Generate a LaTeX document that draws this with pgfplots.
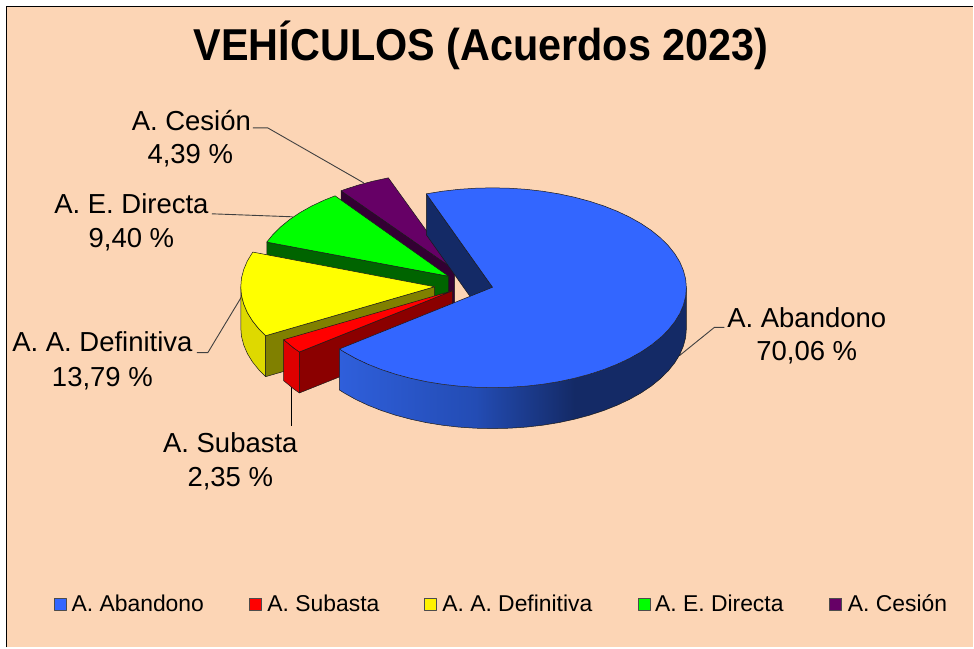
\documentclass[border=0pt]{standalone}
\usepackage{pgfplots}
\pgfplotsset{compat=1.18}
\usepackage{fontspec}
\setmainfont{Liberation Sans}
\definecolor{peach}{HTML}{FCD5B5}
\definecolor{bluetop}{HTML}{3366FF}
\definecolor{bluelite}{HTML}{2F5FDB}
\definecolor{bluemid}{HTML}{234CB4}
\definecolor{navy}{HTML}{142A66}
\definecolor{outl}{HTML}{1A1A1A}
\newcommand{\lab}[3]{\node[anchor=base,inner sep=0pt] at (axis cs:#1,#2) {\fontsize{27.5}{30}\selectfont #3};}
\newcommand{\leg}[2]{\node[anchor=base west,inner sep=0pt] at (axis cs:#1,612) {\fontsize{22.9}{25}\selectfont #2};}
\begin{document}
\begin{tikzpicture}
\begin{axis}[
  width=974pt,height=648pt,scale only axis,
  xmin=0,xmax=974,ymin=0,ymax=648,y dir=reverse,
  hide axis,clip=false,
  axis line style={draw=none},
  every axis plot/.append style={line join=round}
]
% page and plot area
\addplot[fill=white,draw=none] coordinates {(0,0)(974,0)(974,648)(0,648)} --cycle;
\addplot[fill=peach,draw=none] coordinates {(6.5,6.5)(974,6.5)(974,648)(6.5,648)} --cycle;
\addplot[black,line width=1.8pt] coordinates {(6.5,648)(6.5,6.5)(974,6.5)};

% leader lines
\addplot[black!75,line width=0.9pt] coordinates {(253,128)(268,128)(364,183)};
\addplot[black!75,line width=0.9pt] coordinates {(212,214)(293,217)};
\addplot[black!75,line width=0.9pt] coordinates {(197,353)(208,353)(243,295)};
\addplot[black,line width=0.9pt] coordinates {(292,386)(292,426)};
\addplot[black!75,line width=0.9pt] coordinates {(680,356)(715,327.7)(725,327.7)};

% A. Cesion (4,39 %)
\addplot[fill={rgb,255:red,51;green,0;blue,51},draw=outl,line width=0.5pt] coordinates {(341.4,191)(455,270)(455,311)(341.4,232)} --cycle;
\addplot[fill={rgb,255:red,102;green,0;blue,102},draw=outl,line width=0.5pt] coordinates {(455,270)(341.4,191)(343.7,190.1)(358,185.4)(373,181.4)(388.7,178)} --cycle;

% A. E. Directa (9,40 %)
\addplot[fill={rgb,255:red,0;green,100;blue,0},draw=outl,line width=0.5pt] coordinates {(267,242.3)(449,276.5)(449,317.5)(267,283.3)} --cycle;
\addplot[fill={rgb,255:red,0;green,255;blue,0},draw=outl,line width=0.5pt] coordinates {(449,276.5)(267,242.3)(273.2,234.7)(281,227)(290.1,219.6)(300.4,212.7)(311.8,206.3)(324.3,200.4)(335.4,196)} --cycle;

% A. A. Definitiva (13,79 %)
\addplot[fill={rgb,255:red,222;green,217;blue,0},draw=outl,line width=0.5pt] coordinates {(265.9,336)(259.2,329.3)(252.7,321.2)(247.6,312.9)(244,304.4)(241.7,295.7)(241,287)(241,328)(241.7,336.7)(244,345.4)(247.6,353.9)(252.7,362.2)(259.2,370.3)(265.9,377)} --cycle;
\addplot[fill={rgb,255:red,128;green,128;blue,0},draw=outl,line width=0.5pt] coordinates {(265.9,336)(435,287)(435,328)(265.9,377)} --cycle;
\addplot[fill={rgb,255:red,255;green,255;blue,0},draw=outl,line width=0.5pt] coordinates {(435,287)(265.9,336)(259.2,329.3)(252.7,321.2)(247.6,312.9)(244,304.4)(241.7,295.7)(241,287)(241.7,278.3)(244,269.6)(247.6,261.1)(253,252.3)} --cycle;

% A. Subasta (2,35 %)
\addplot[fill={rgb,255:red,222;green,0;blue,0},draw=outl,line width=0.5pt] coordinates {(283.9,340)(294.1,348.4)(299.7,352.3)(299.7,393.3)(294.1,389.4)(283.9,381)} --cycle;
\addplot[fill={rgb,255:red,139;green,0;blue,0},draw=outl,line width=0.5pt] coordinates {(299.7,352.3)(453,291)(453,332)(299.7,393.3)} --cycle;
\addplot[fill={rgb,255:red,255;green,0;blue,0},draw=outl,line width=0.5pt] coordinates {(453,291)(299.7,352.3)(294.1,348.4)(283.9,340)} --cycle;

% A. Abandono (70,06 %)
\addplot[fill=navy,draw=outl,line width=0.5pt] coordinates {(426.7,194)(493,287.5)(493,328.5)(426.7,235)} --cycle;
\addplot[draw=none,left color=bluelite,right color=bluemid] coordinates {(339.7,349.3)(344.4,352.3)(355.8,358.7)(368.3,364.6)(381.7,369.9)(396,374.6)(411,378.6)(426.7,382)(442.8,384.6)(459.3,386.5)(476.4,387.6)(476.4,428.6)(459.3,427.5)(442.8,425.6)(426.7,423)(411,419.6)(396,415.6)(381.7,410.9)(368.3,405.6)(355.8,399.7)(344.4,393.3)(339.7,390.3)} --cycle;
\addplot[draw=none,left color=bluemid,right color=navy] coordinates {(476.1,387.6)(493,388)(509.9,387.6)(526.7,386.5)(543.2,384.6)(559.3,382)(575.3,378.6)(575.3,419.6)(559.3,423)(543.2,425.6)(526.7,427.5)(509.9,428.6)(493,429)(476.1,428.6)} --cycle;
\addplot[fill=navy,draw=none] coordinates {(575,378.6)(590,374.6)(604.3,369.9)(617.7,364.6)(630.2,358.7)(641.6,352.3)(651.9,345.4)(661,338)(668.8,330.3)(675.3,322.2)(680.4,313.9)(684,305.4)(686.3,296.7)(687,288)(687,329)(686.3,337.7)(684,346.4)(680.4,354.9)(675.3,363.2)(668.8,371.3)(661,379)(651.9,386.4)(641.6,393.3)(630.2,399.7)(617.7,405.6)(604.3,410.9)(590,415.6)(575,419.6)} --cycle;
\addplot[draw=outl,line width=0.5pt] coordinates {(339.7,349.3)(339.7,390.3)(344.4,393.3)(355.8,399.7)(368.3,405.6)(381.7,410.9)(396,415.6)(411,419.6)(426.7,423)(442.8,425.6)(459.3,427.5)(476.1,428.6)(493,429)(509.9,428.6)(526.7,427.5)(543.2,425.6)(559.3,423)(575,419.6)(590,415.6)(604.3,410.9)(617.7,405.6)(630.2,399.7)(641.6,393.3)(651.9,386.4)(661,379)(668.8,371.3)(675.3,363.2)(680.4,354.9)(684,346.4)(686.3,337.7)(687,329)(687,288)};
\addplot[fill=bluetop,draw=outl,line width=0.5pt] coordinates {(426.7,194)(442.8,191.4)(459.3,189.5)(476.1,188.4)(493,188)(509.9,188.4)(526.7,189.5)(543.2,191.4)(559.3,194)(575,197.4)(590,201.4)(604.3,206.1)(617.7,211.4)(630.2,217.3)(641.6,223.7)(651.9,230.6)(661,238)(668.8,245.7)(675.3,253.8)(680.4,262.1)(684,270.6)(686.3,279.3)(687,288)(686.3,296.7)(684,305.4)(680.4,313.9)(675.3,322.2)(668.8,330.3)(661,338)(651.9,345.4)(641.6,352.3)(630.2,358.7)(617.7,364.6)(604.3,369.9)(590,374.6)(575,378.6)(559.3,382)(543.2,384.6)(526.7,386.5)(509.9,387.6)(493,388)(476.1,387.6)(459.3,386.5)(442.8,384.6)(426.7,382)(411,378.6)(396,374.6)(381.7,369.9)(368.3,364.6)(355.8,358.7)(344.4,352.3)(339.7,349.3)(493,287.5)} --cycle;

% legend keys
\addplot[only marks,mark=square*,mark size=6pt,mark options={fill=bluetop,draw=black!70,line width=0.7pt}] coordinates {(60.3,604.5)};
\addplot[only marks,mark=square*,mark size=6pt,mark options={fill=red,draw=black!70,line width=0.7pt}] coordinates {(256,604.5)};
\addplot[only marks,mark=square*,mark size=6pt,mark options={fill=yellow,draw=black!70,line width=0.7pt}] coordinates {(431,604.5)};
\addplot[only marks,mark=square*,mark size=6pt,mark options={fill=green,draw=black!70,line width=0.7pt}] coordinates {(644.5,604.5)};
\addplot[only marks,mark=square*,mark size=6pt,mark options={fill={rgb,255:red,102;green,0;blue,102},draw=black!70,line width=0.7pt}] coordinates {(836.5,604.5)};

% texts
\node[anchor=base,inner sep=0pt] at (axis cs:481.5,60.5) {\scalebox{1}[1.08]{\fontsize{41.4}{46}\selectfont\bfseries VEHÍCULOS (Acuerdos 2023)}};
\lab{191.5}{131}{A. Cesión}
\lab{190.5}{164}{4,39 \%}
\lab{131.5}{214}{A. E. Directa}
\lab{131.5}{248}{9,40 \%}
\lab{102.5}{352}{A. A. Definitiva}
\lab{102.5}{387}{13,79 \%}
\lab{230.5}{453}{A. Subasta}
\lab{230.5}{487}{2,35 \%}
\lab{807.5}{327.5}{A. Abandono}
\lab{807.5}{360.5}{70,06 \%}
\leg{71.5}{A. Abandono}
\leg{267.5}{A. Subasta}
\leg{442.5}{A. A. Definitiva}
\leg{655.5}{A. E. Directa}
\leg{848.5}{A. Cesión}
\end{axis}
\end{tikzpicture}
\end{document}
